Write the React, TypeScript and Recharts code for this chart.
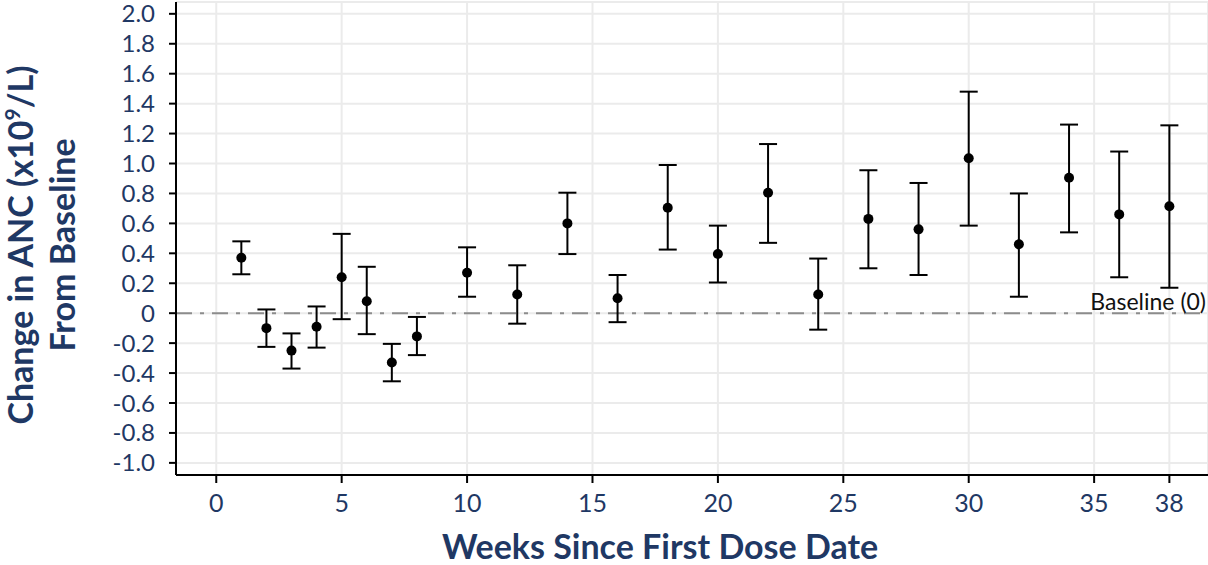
import React from 'react';
import { ScatterChart, Scatter, ErrorBar, XAxis, YAxis, CartesianGrid, ReferenceLine } from 'recharts';

// Weeks since first dose, mean change in ANC and 95% CI bounds
const weeks = [1, 2, 3, 4, 5, 6, 7, 8, 10, 12, 14, 16, 18, 20, 22, 24, 26, 28, 30, 32, 34, 36, 38];
const meanChange = [0.37, -0.1, -0.25, -0.09, 0.24, 0.08, -0.33, -0.155, 0.27, 0.125, 0.6, 0.1, 0.705, 0.395, 0.805, 0.125, 0.63, 0.56, 1.035, 0.46, 0.905, 0.66, 0.715];
const lowerCI = [0.26, -0.225, -0.37, -0.23, -0.04, -0.14, -0.455, -0.28, 0.11, -0.07, 0.395, -0.06, 0.425, 0.205, 0.47, -0.11, 0.3, 0.255, 0.585, 0.11, 0.54, 0.24, 0.17];
const upperCI = [0.48, 0.025, -0.135, 0.045, 0.53, 0.31, -0.205, -0.025, 0.44, 0.32, 0.805, 0.255, 0.99, 0.585, 1.13, 0.365, 0.955, 0.87, 1.48, 0.8, 1.26, 1.08, 1.255];

const xTicks = [0, 5, 10, 15, 20, 25, 30, 35, 38];
const yTicks = [-1.0, -0.8, -0.6, -0.4, -0.2, 0, 0.2, 0.4, 0.6, 0.8, 1.0, 1.2, 1.4, 1.6, 1.8, 2.0];

const NAVY = '#1F3864';
const FONT = 'Lato, "Open Sans", sans-serif';

const rows = weeks.map((week, i) => ({
  week,
  mean: meanChange[i],
  err: [meanChange[i] - lowerCI[i], upperCI[i] - meanChange[i]],
}));

const formatY = (v: number) => (v === 0 ? '0' : v.toFixed(1));

const Dot = (props: any) => <circle cx={props.cx} cy={props.cy} r={5} fill="#000" />;

const YTitle = () => (
  <g fontFamily={FONT} fontWeight={700} fontSize={34} fill={NAVY}>
    <text transform="translate(33,245) rotate(-90)" textAnchor="middle">
      Change in ANC (x10
      <tspan fontSize={21} dy={-13}>9</tspan>
      <tspan dy={13}>/L)</tspan>
    </text>
    <text transform="translate(75,245) rotate(-90)" textAnchor="middle">
      From Baseline
    </text>
  </g>
);

const XTitle = () => (
  <text x={660} y={559} textAnchor="middle" fontFamily={FONT} fontWeight={700} fontSize={34} fill={NAVY}>
    Weeks Since First Dose Date
  </text>
);

const BaselineLabel = () => (
  <text x={1206} y={310} textAnchor="end" fontFamily={FONT} fontSize={23} fill="#111">
    Baseline (0)
  </text>
);

export default function App() {
  return (
    <div style={{ position: 'absolute', left: 0, top: 0, background: '#fff' }}>
      <ScatterChart width={1208} height={565} margin={{ top: 2, right: 0, bottom: 0, left: 0 }}>
        <CartesianGrid stroke="#ebebeb" strokeWidth={2} />
        <XAxis
          type="number"
          dataKey="week"
          domain={[-1.605, 39.54]}
          ticks={xTicks}
          interval={0}
          height={90}
          axisLine={{ stroke: '#000', strokeWidth: 2 }}
          tickLine={{ stroke: '#000', strokeWidth: 2 }}
          tickSize={8}
          tickMargin={11}
          tick={{ fill: NAVY, fontSize: 25, fontFamily: FONT }}
          label={{ content: <XTitle /> }}
        />
        <XAxis
          xAxisId="top"
          orientation="top"
          type="number"
          dataKey="week"
          domain={[-1.605, 39.54]}
          height={0}
          tick={false}
          tickLine={false}
          axisLine={{ stroke: '#000', strokeWidth: 2 }}
        />
        <YAxis
          type="number"
          dataKey="mean"
          domain={[-1.081, 2.079]}
          ticks={yTicks}
          interval={0}
          width={176}
          axisLine={{ stroke: '#000', strokeWidth: 2 }}
          tickLine={{ stroke: '#000', strokeWidth: 2 }}
          tickSize={7}
          tickMargin={14}
          tickFormatter={formatY}
          tick={{ fill: NAVY, fontSize: 24, fontFamily: FONT }}
          label={{ content: <YTitle /> }}
        />
        <ReferenceLine
          y={0}
          stroke="#8c8c8c"
          strokeWidth={2}
          strokeDasharray="16 8 4 8"
          label={{ content: <BaselineLabel /> }}
        />
        <Scatter data={rows} dataKey="mean" shape={<Dot />} isAnimationActive={false}>
          <ErrorBar dataKey="err" direction="y" width={9} stroke="#000" strokeWidth={2} isAnimationActive={false} />
        </Scatter>
      </ScatterChart>
    </div>
  );
}
